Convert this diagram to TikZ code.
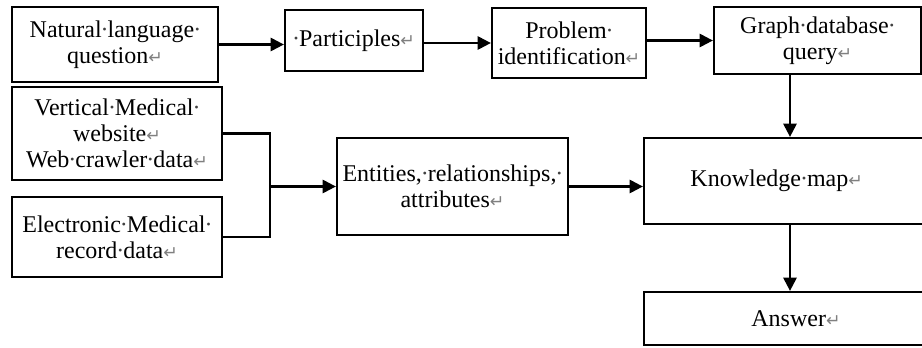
\documentclass[tikz,border=0pt]{standalone}
\usepackage{fontspec}
\setmainfont{Liberation Serif}
\newfontfamily\retfont{DejaVu Sans}
\usetikzlibrary{arrows.meta}
\newcommand{\wsp}{\hbox to 0.25em{\hss{\color{darkgray}·}\hss}}
\newcommand{\rtn}{{\color{gray}\retfont\fontsize{13}{13}\selectfont ↵}}

\tikzset{every picture/.style={line width=0.75pt}}
\tikzset{
box/.style={draw, line width=1.7pt, inner sep=0pt, align=center, font=\fontsize{18}{19.5}\selectfont},
link/.style={line width=1.7pt},
arr/.style={line width=1.7pt, -{Triangle[length=10pt,width=10pt]}}}

\begin{document}
\begin{tikzpicture}[x=0.75pt,y=0.75pt,yscale=-1,xscale=1]
\useasboundingbox (0,0) rectangle (922,347);
\clip (0,0) rectangle (922,347);

% Top row
\node [box, minimum width=154.5pt, minimum height=56.25pt] (nlq) at (115,44.5) {Natural\wsp language\wsp\\question\rtn};
\node [box, minimum width=103.5pt, minimum height=45.75pt] (part) at (354,40.5) {\wsp Participles\rtn};
\node [box, minimum width=115.5pt, minimum height=52.5pt] (prob) at (569,43) {Problem\wsp\\identification\rtn};
\node [box, minimum width=155.25pt, minimum height=50.25pt] (graph) at (817.5,40.5) {Graph\wsp database\wsp\\query\rtn};

% Data sources
\node [box, minimum width=157.5pt, minimum height=69.75pt] (web) at (117,133.5) {Vertical\wsp Medical\wsp\\website\rtn\\ Web\wsp crawler\wsp data\rtn};
\node [box, minimum width=157.5pt, minimum height=60pt] (emr) at (117,237) {Electronic\wsp Medical\wsp\\record\wsp data\rtn};
\node [box, minimum width=173.25pt, minimum height=72.75pt] (ent) at (452.5,186.5) {Entities,\wsp relationships,\wsp\\attributes\rtn};

% Right column
\node [box, minimum width=219pt, minimum height=64.5pt] (km) at (790,181) {Knowledge\wsp map\rtn\hspace*{20pt}};
\node [box, minimum width=219pt, minimum height=39.75pt] (ans) at (790,318.5) {\hspace*{9pt}Answer\rtn};

\coordinate (join) at (270,186.5);

%Straight Lines
\draw [arr] (nlq.east) -- (part.west |- nlq.east);
\draw [arr] (part.east |- prob.west) -- (prob.west);
\draw [arr] (prob.east |- graph.west) -- (graph.west);
\draw [arr] (graph.south -| km.north) -- (km.north);
\draw [link] (web.east) -| (join);
\draw [link] (emr.east) -| (join);
\draw [arr] (join) -- (ent.west);
\draw [arr] (ent.east) -- (km.west |- ent.east);
\draw [arr] (km.south) -- (ans.north);

\end{tikzpicture}
\end{document}
